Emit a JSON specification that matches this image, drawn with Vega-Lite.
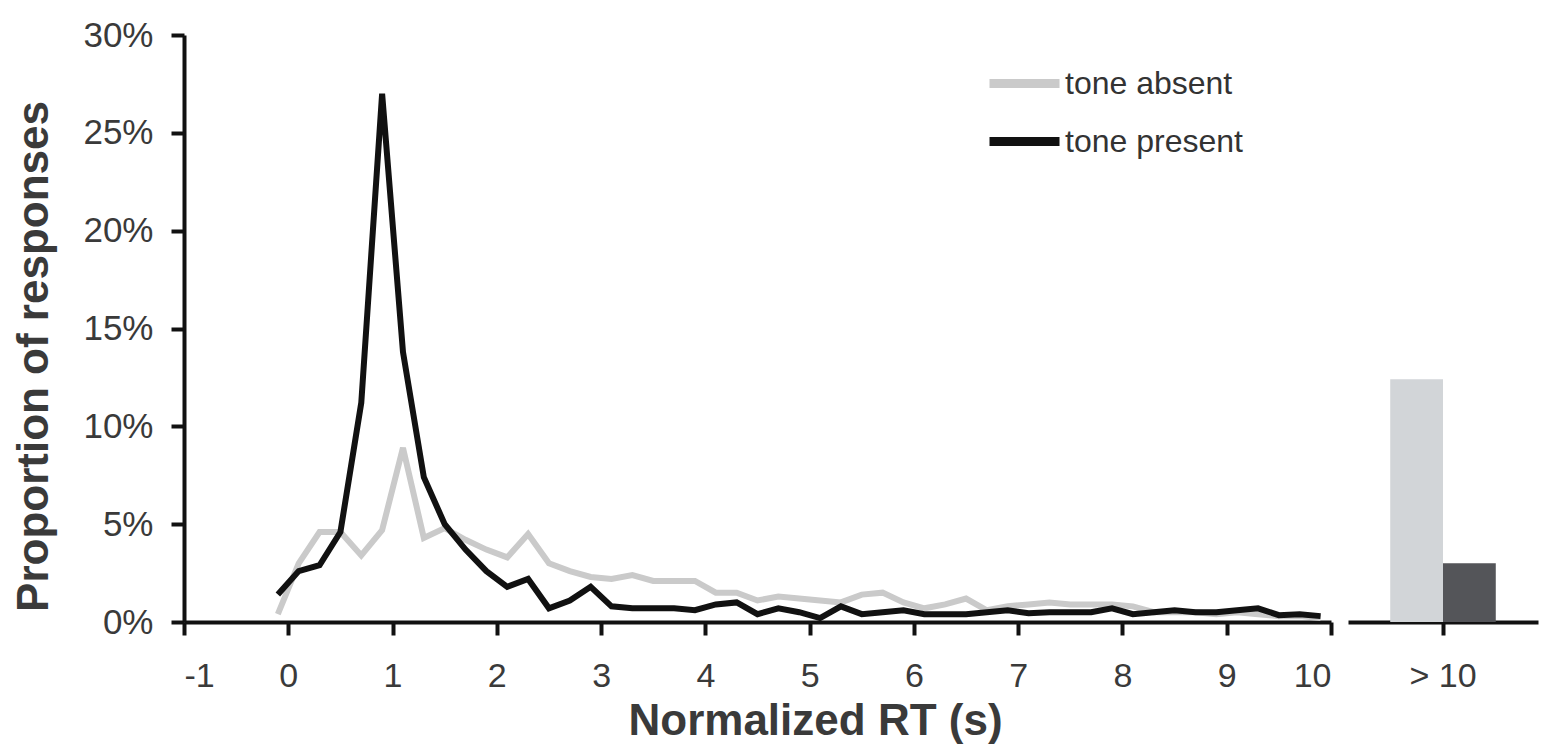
{
  "$schema": "https://vega.github.io/schema/vega-lite/v6.json",
  "padding": {"left": 12, "top": 18, "right": 6, "bottom": 5},
  "background": "white",
  "config": {
    "font": "Liberation Sans",
    "view": {"stroke": null},
    "axis": {
      "labelColor": "#3a3a3a",
      "titleColor": "#3a3a3a",
      "domainColor": "#111111",
      "tickColor": "#111111",
      "domainWidth": 4,
      "tickWidth": 4,
      "tickSize": 13,
      "grid": false,
      "labelFont": "Liberation Sans",
      "titleFont": "Liberation Sans"
    },
    "legend": {"labelFont": "Liberation Sans"}
  },
  "datasets": {
    "lines": [
      {"rt": -0.1, "series": "tone absent", "pct": 0.4},
      {"rt": 0.1, "series": "tone absent", "pct": 3.0},
      {"rt": 0.3, "series": "tone absent", "pct": 4.6},
      {"rt": 0.5, "series": "tone absent", "pct": 4.6},
      {"rt": 0.7, "series": "tone absent", "pct": 3.4},
      {"rt": 0.9, "series": "tone absent", "pct": 4.7},
      {"rt": 1.1, "series": "tone absent", "pct": 8.9},
      {"rt": 1.3, "series": "tone absent", "pct": 4.3},
      {"rt": 1.5, "series": "tone absent", "pct": 4.8},
      {"rt": 1.7, "series": "tone absent", "pct": 4.2},
      {"rt": 1.9, "series": "tone absent", "pct": 3.7},
      {"rt": 2.1, "series": "tone absent", "pct": 3.3},
      {"rt": 2.3, "series": "tone absent", "pct": 4.5},
      {"rt": 2.5, "series": "tone absent", "pct": 3.0},
      {"rt": 2.7, "series": "tone absent", "pct": 2.6},
      {"rt": 2.9, "series": "tone absent", "pct": 2.3},
      {"rt": 3.1, "series": "tone absent", "pct": 2.2},
      {"rt": 3.3, "series": "tone absent", "pct": 2.4},
      {"rt": 3.5, "series": "tone absent", "pct": 2.1},
      {"rt": 3.7, "series": "tone absent", "pct": 2.1},
      {"rt": 3.9, "series": "tone absent", "pct": 2.1},
      {"rt": 4.1, "series": "tone absent", "pct": 1.5},
      {"rt": 4.3, "series": "tone absent", "pct": 1.5},
      {"rt": 4.5, "series": "tone absent", "pct": 1.1},
      {"rt": 4.7, "series": "tone absent", "pct": 1.3},
      {"rt": 4.9, "series": "tone absent", "pct": 1.2},
      {"rt": 5.1, "series": "tone absent", "pct": 1.1},
      {"rt": 5.3, "series": "tone absent", "pct": 1.0},
      {"rt": 5.5, "series": "tone absent", "pct": 1.4},
      {"rt": 5.7, "series": "tone absent", "pct": 1.5},
      {"rt": 5.9, "series": "tone absent", "pct": 1.0},
      {"rt": 6.1, "series": "tone absent", "pct": 0.7},
      {"rt": 6.3, "series": "tone absent", "pct": 0.9},
      {"rt": 6.5, "series": "tone absent", "pct": 1.2},
      {"rt": 6.7, "series": "tone absent", "pct": 0.6},
      {"rt": 6.9, "series": "tone absent", "pct": 0.8},
      {"rt": 7.1, "series": "tone absent", "pct": 0.9},
      {"rt": 7.3, "series": "tone absent", "pct": 1.0},
      {"rt": 7.5, "series": "tone absent", "pct": 0.9},
      {"rt": 7.7, "series": "tone absent", "pct": 0.9},
      {"rt": 7.9, "series": "tone absent", "pct": 0.9},
      {"rt": 8.1, "series": "tone absent", "pct": 0.8},
      {"rt": 8.3, "series": "tone absent", "pct": 0.5},
      {"rt": 8.5, "series": "tone absent", "pct": 0.5},
      {"rt": 8.7, "series": "tone absent", "pct": 0.5},
      {"rt": 8.9, "series": "tone absent", "pct": 0.4},
      {"rt": 9.1, "series": "tone absent", "pct": 0.5},
      {"rt": 9.3, "series": "tone absent", "pct": 0.4},
      {"rt": 9.5, "series": "tone absent", "pct": 0.3},
      {"rt": 9.7, "series": "tone absent", "pct": 0.3},
      {"rt": 9.9, "series": "tone absent", "pct": 0.2},
      {"rt": -0.1, "series": "tone present", "pct": 1.4},
      {"rt": 0.1, "series": "tone present", "pct": 2.6},
      {"rt": 0.3, "series": "tone present", "pct": 2.9},
      {"rt": 0.5, "series": "tone present", "pct": 4.6},
      {"rt": 0.7, "series": "tone present", "pct": 11.2},
      {"rt": 0.9, "series": "tone present", "pct": 27.0},
      {"rt": 1.1, "series": "tone present", "pct": 13.8},
      {"rt": 1.3, "series": "tone present", "pct": 7.4},
      {"rt": 1.5, "series": "tone present", "pct": 5.0},
      {"rt": 1.7, "series": "tone present", "pct": 3.7},
      {"rt": 1.9, "series": "tone present", "pct": 2.6},
      {"rt": 2.1, "series": "tone present", "pct": 1.8},
      {"rt": 2.3, "series": "tone present", "pct": 2.2},
      {"rt": 2.5, "series": "tone present", "pct": 0.7},
      {"rt": 2.7, "series": "tone present", "pct": 1.1},
      {"rt": 2.9, "series": "tone present", "pct": 1.8},
      {"rt": 3.1, "series": "tone present", "pct": 0.8},
      {"rt": 3.3, "series": "tone present", "pct": 0.7},
      {"rt": 3.5, "series": "tone present", "pct": 0.7},
      {"rt": 3.7, "series": "tone present", "pct": 0.7},
      {"rt": 3.9, "series": "tone present", "pct": 0.6},
      {"rt": 4.1, "series": "tone present", "pct": 0.9},
      {"rt": 4.3, "series": "tone present", "pct": 1.0},
      {"rt": 4.5, "series": "tone present", "pct": 0.4},
      {"rt": 4.7, "series": "tone present", "pct": 0.7},
      {"rt": 4.9, "series": "tone present", "pct": 0.5},
      {"rt": 5.1, "series": "tone present", "pct": 0.2},
      {"rt": 5.3, "series": "tone present", "pct": 0.8},
      {"rt": 5.5, "series": "tone present", "pct": 0.4},
      {"rt": 5.7, "series": "tone present", "pct": 0.5},
      {"rt": 5.9, "series": "tone present", "pct": 0.6},
      {"rt": 6.1, "series": "tone present", "pct": 0.4},
      {"rt": 6.3, "series": "tone present", "pct": 0.4},
      {"rt": 6.5, "series": "tone present", "pct": 0.4},
      {"rt": 6.7, "series": "tone present", "pct": 0.5},
      {"rt": 6.9, "series": "tone present", "pct": 0.6},
      {"rt": 7.1, "series": "tone present", "pct": 0.45},
      {"rt": 7.3, "series": "tone present", "pct": 0.5},
      {"rt": 7.5, "series": "tone present", "pct": 0.5},
      {"rt": 7.7, "series": "tone present", "pct": 0.5},
      {"rt": 7.9, "series": "tone present", "pct": 0.7},
      {"rt": 8.1, "series": "tone present", "pct": 0.4},
      {"rt": 8.3, "series": "tone present", "pct": 0.5},
      {"rt": 8.5, "series": "tone present", "pct": 0.6},
      {"rt": 8.7, "series": "tone present", "pct": 0.5},
      {"rt": 8.9, "series": "tone present", "pct": 0.5},
      {"rt": 9.1, "series": "tone present", "pct": 0.6},
      {"rt": 9.3, "series": "tone present", "pct": 0.7},
      {"rt": 9.5, "series": "tone present", "pct": 0.35},
      {"rt": 9.7, "series": "tone present", "pct": 0.4},
      {"rt": 9.9, "series": "tone present", "pct": 0.3}
    ],
    "over": [
      {"bin": "> 10", "series": "tone absent", "pct": 12.4},
      {"bin": "> 10", "series": "tone present", "pct": 3.0}
    ]
  },
  "hconcat": [
    {
      "width": 1147,
      "height": 587,
      "data": {"name": "lines"},
      "mark": {"type": "line", "strokeWidth": 6, "strokeJoin": "miter"},
      "encoding": {
        "x": {
          "field": "rt",
          "type": "quantitative",
          "scale": {"domain": [-1, 10], "nice": false, "zero": false},
          "axis": {
            "values": [-1, 0, 1, 2, 3, 4, 5, 6, 7, 8, 9, 10],
            "labelExpr": "'' + datum.value",
            "labelFontSize": 34,
            "labelPadding": 24,
            "title": "Normalized RT (s)",
            "titleFontSize": 44,
            "titleFontWeight": "bold",
            "titlePadding": 6,
            "titleX": 631
          }
        },
        "y": {
          "field": "pct",
          "type": "quantitative",
          "scale": {"domain": [0, 30], "nice": false},
          "axis": {
            "values": [0, 5, 10, 15, 20, 25, 30],
            "labelExpr": "datum.value + '%'",
            "labelFontSize": 35,
            "labelPadding": 18,
            "title": "Proportion of responses",
            "titleFontSize": 44,
            "titleFontWeight": "bold",
            "titlePadding": 26,
            "titleY": 321
          }
        },
        "color": {
          "field": "series",
          "type": "nominal",
          "scale": {"domain": ["tone absent", "tone present"], "range": ["#cacaca", "#111111"]},
          "legend": {
            "orient": "none",
            "legendX": 801,
            "legendY": 9,
            "title": null,
            "symbolType": "stroke",
            "symbolSize": 4900,
            "symbolStrokeWidth": 9,
            "labelFontSize": 32,
            "labelColor": "#333333",
            "labelOffset": 1,
            "labelLimit": 0,
            "rowPadding": 0
          }
        }
      }
    },
    {
      "width": 190,
      "height": 587,
      "data": {"name": "over"},
      "mark": {"type": "bar"},
      "encoding": {
        "x": {
          "field": "bin",
          "type": "nominal",
          "scale": {"paddingOuter": 0.4, "paddingInner": 0},
          "axis": {
            "title": null,
            "labelAngle": 0,
            "labelFontSize": 34,
            "labelPadding": 24,
            "bandPosition": 0.5
          }
        },
        "xOffset": {"field": "series", "type": "nominal", "sort": ["tone absent", "tone present"]},
        "y": {
          "field": "pct",
          "type": "quantitative",
          "scale": {"domain": [0, 30], "nice": false},
          "axis": null
        },
        "color": {
          "field": "series",
          "type": "nominal",
          "scale": {"domain": ["tone absent", "tone present"], "range": ["#d2d5d8", "#545559"]},
          "legend": null
        }
      }
    }
  ],
  "spacing": 17,
  "bounds": "flush",
  "resolve": {"scale": {"color": "independent", "y": "independent"}}
}
